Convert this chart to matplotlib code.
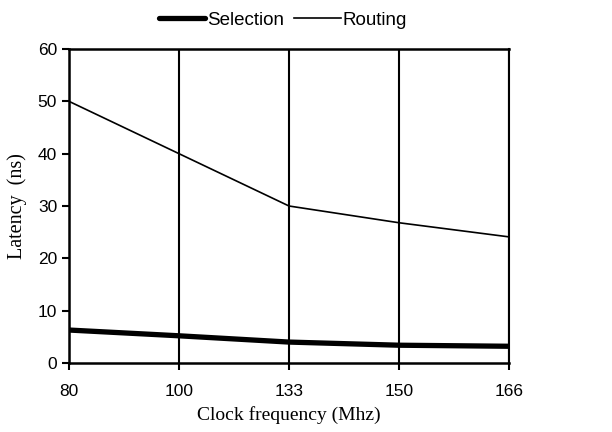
import matplotlib
matplotlib.use('Agg')
import matplotlib.pyplot as plt

# 데이터
freq_labels = ['80', '100', '133', '150', '166']
selection = [6.3, 5.2, 4.0, 3.4, 3.2]
routing = [50, 40, 30, 26.8, 24.1]

plt.rcParams['font.family'] = 'Liberation Sans'

fig = plt.figure(figsize=(6.12, 4.32), dpi=100)
ax = fig.add_axes([0.1127, 0.1597, 0.8317 - 0.1127, 0.8866 - 0.1597])

x = list(range(len(freq_labels)))
ax.plot(x, selection, color='black', linewidth=3.8, label='Selection', solid_capstyle='round')
ax.plot(x, routing, color='black', linewidth=1.2, label='Routing')

ax.set_xlim(0, len(freq_labels) - 1)
ax.set_ylim(0, 60)
ax.set_xticks(x)
ax.set_xticklabels(freq_labels)
ax.set_yticks(range(0, 61, 10))

# 세로 격자선
ax.grid(True, axis='x', color='black', linewidth=1.5)
for s in ['left', 'bottom', 'top']:
    ax.spines[s].set_linewidth(1.8)
ax.spines['right'].set_linewidth(1.5)

ax.tick_params(axis='both', labelsize=12.5, width=1.5, length=5, direction='out')
ax.tick_params(axis='x', pad=10)

ax.set_xlabel('Clock frequency (Mhz)', family='Liberation Serif', fontsize=14, labelpad=5)
ax.set_ylabel('Latency  (ns)', family='Liberation Serif', fontsize=14.5, labelpad=8)

fig.legend(loc='center', bbox_to_anchor=(0.462, 0.953), ncol=2, frameon=False,
           fontsize=13.5, handlelength=2.5, handletextpad=0.1, columnspacing=0.5)

fig.savefig('out.png', dpi=100)
